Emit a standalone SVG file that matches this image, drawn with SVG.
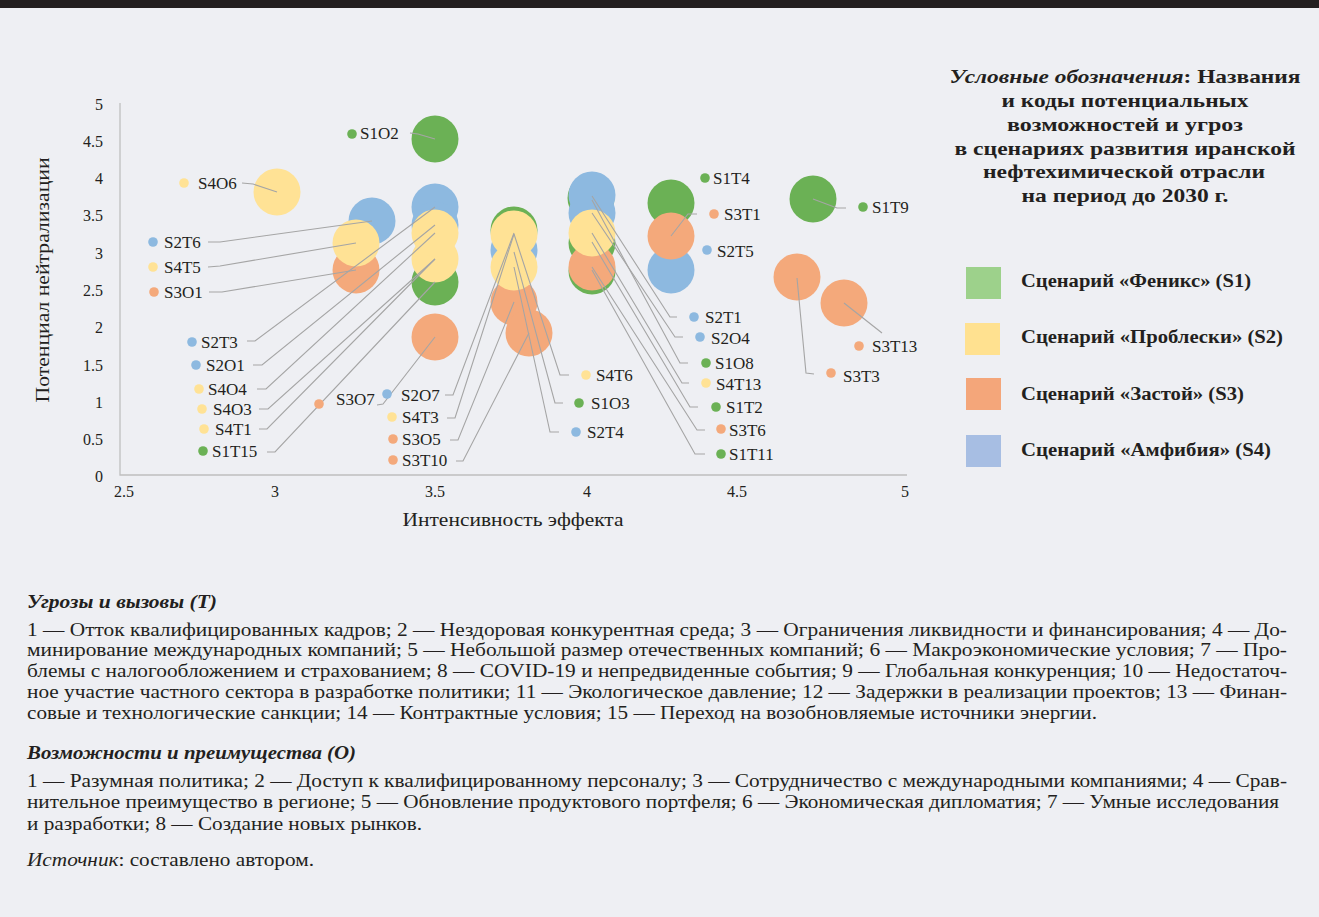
<svg xmlns="http://www.w3.org/2000/svg" width="1319" height="917" viewBox="0 0 1319 917">
<style>
text{font-family:"Liberation Serif","Times New Roman",serif;fill:#231f20}
.lb{font-size:17px}
.tk{font-size:16px}
.ax{font-size:18px}
.lt{font-size:19px;font-weight:bold}
.li{font-size:18px;font-weight:bold}
.bd{font-size:18px}
.hd{font-size:19px;font-weight:bold;font-style:italic}
.g{fill:#6bb155}.y{fill:#ffe295}.o{fill:#f4a97b}.b{fill:#8db9e0}
.ld polyline{fill:none;stroke:#a5a5a5;stroke-width:1.1}
.axis{stroke:#bfbfbf;stroke-width:1.3;fill:none}
</style>
<defs>
<circle id="B" r="23.5"/>
<circle id="d" r="4.8"/>
</defs>
<rect width="1319" height="917" fill="#eeeff3"/>
<rect width="1319" height="8" fill="#231f20"/>

<g id="axes">
<path class="axis" d="M120 103V475H907"/>
<g class="tk" text-anchor="end">
<text x="103" y="110">5</text><text x="103" y="147">4.5</text><text x="103" y="184">4</text><text x="103" y="221">3.5</text><text x="103" y="259">3</text><text x="103" y="296">2.5</text><text x="103" y="333">2</text><text x="103" y="371">1.5</text><text x="103" y="408">1</text><text x="103" y="445">0.5</text><text x="103" y="482">0</text>
</g>
<g class="tk" text-anchor="middle">
<text x="124" y="497">2.5</text><text x="275" y="497">3</text><text x="435" y="497">3.5</text><text x="587" y="497">4</text><text x="737" y="497">4.5</text><text x="905" y="497">5</text>
</g>
<text class="ax" x="513" y="526" text-anchor="middle" textLength="221" lengthAdjust="spacingAndGlyphs">Интенсивность эффекта</text>
<text class="ax" transform="translate(49 280) rotate(-90)" text-anchor="middle" textLength="245" lengthAdjust="spacingAndGlyphs">Потенциал нейтрализации</text>
</g>

<g id="bubbles">
<use href="#B" class="y" x="277" y="192"/>
<use href="#B" class="b" x="372" y="221"/>
<use href="#B" class="o" x="356" y="270"/>
<use href="#B" class="y" x="356" y="243"/>
<use href="#B" class="g" x="435" y="139"/>
<use href="#B" class="g" x="435" y="282"/>
<use href="#B" class="b" x="435" y="207"/>
<use href="#B" class="b" x="435" y="225"/>
<use href="#B" class="y" x="435" y="259"/>
<use href="#B" class="y" x="435" y="233"/>
<use href="#B" class="o" x="435" y="337"/>
<use href="#B" class="o" x="514" y="302"/>
<use href="#B" class="o" x="529" y="333"/>
<use href="#B" class="b" x="514" y="250"/>
<use href="#B" class="g" x="514" y="230"/>
<use href="#B" class="y" x="514" y="267"/>
<use href="#B" class="y" x="514" y="234"/>
<use href="#B" class="g" x="591" y="198"/>
<use href="#B" class="g" x="592" y="243"/>
<use href="#B" class="g" x="592" y="271"/>
<use href="#B" class="b" x="592" y="213"/>
<use href="#B" class="b" x="592" y="195"/>
<use href="#B" class="o" x="592" y="267"/>
<use href="#B" class="y" x="592" y="233"/>
<use href="#B" class="g" x="671" y="203"/>
<use href="#B" class="b" x="671" y="270"/>
<use href="#B" class="o" x="671" y="236"/>
<use href="#B" class="g" x="813" y="199"/>
<use href="#B" class="o" x="797" y="277"/>
<use href="#B" class="o" x="844" y="303"/>
</g>

<g id="connectors" class="ld">
<polyline points="435,139 418,134 410,133"/>
<polyline points="277,192 253,184 242,183"/>
<polyline points="372,221 220,242 208,242"/>
<polyline points="356,243 220,266 208,267"/>
<polyline points="356,270 222,292 209,292"/>
<polyline points="435,207 255,341 247,341"/>
<polyline points="435,225 262,365 253,365"/>
<polyline points="435,233 266,389 257,389"/>
<polyline points="435,259 268,409 259,409"/>
<polyline points="435,259 267,429 259,429"/>
<polyline points="435,282 275,452 267,452"/>
<polyline points="435,337 383,404 377,405"/>
<polyline points="514,233 453,395 445,395"/>
<polyline points="514,234 455,418 447,418"/>
<polyline points="514,302 458,440 450,440"/>
<polyline points="529,333 463,461 456,461"/>
<polyline points="514,234 560,375 569,375"/>
<polyline points="514,252 555,403 563,403"/>
<polyline points="514,267 550,432 559,432"/>
<polyline points="592,196 670,317 677,317"/>
<polyline points="592,213 675,337 683,337"/>
<polyline points="592,200 680,363 688,363"/>
<polyline points="592,233 682,383 689,383"/>
<polyline points="592,242 690,407 698,407"/>
<polyline points="592,267 697,430 705,430"/>
<polyline points="592,270 695,454 705,454"/>
<polyline points="671,236 688,214 697,214"/>
<polyline points="813,199 837,208 846,208"/>
<polyline points="797,278 806,373 814,374"/>
<polyline points="844,303 882,333"/>
</g>

<g id="labels" class="lb">
<g id="S1O2"><use href="#d" class="g" x="352" y="134"/><text x="360" y="139">S1O2</text></g>
<g id="S4O6"><use href="#d" class="y" x="184" y="183"/><text x="198" y="189">S4O6</text></g>
<g id="S2T6"><use href="#d" class="b" x="153" y="242"/><text x="164" y="248">S2T6</text></g>
<g id="S4T5"><use href="#d" class="y" x="153" y="267"/><text x="164" y="273">S4T5</text></g>
<g id="S3O1"><use href="#d" class="o" x="154" y="292"/><text x="164" y="298">S3O1</text></g>
<g id="S2T3"><use href="#d" class="b" x="192" y="342"/><text x="201" y="348">S2T3</text></g>
<g id="S2O1"><use href="#d" class="b" x="196" y="365"/><text x="206" y="371">S2O1</text></g>
<g id="S4O4"><use href="#d" class="y" x="199" y="389"/><text x="208" y="395">S4O4</text></g>
<g id="S4O3"><use href="#d" class="y" x="202" y="409"/><text x="213" y="415">S4O3</text></g>
<g id="S4T1"><use href="#d" class="y" x="204" y="429"/><text x="215" y="435">S4T1</text></g>
<g id="S1T15"><use href="#d" class="g" x="203" y="451"/><text x="212" y="457">S1T15</text></g>
<g id="S3O7"><use href="#d" class="o" x="319" y="404"/><text x="336" y="405">S3O7</text></g>
<g id="S2O7"><use href="#d" class="b" x="387" y="394"/><text x="401" y="401">S2O7</text></g>
<g id="S4T3"><use href="#d" class="y" x="392" y="417"/><text x="402" y="423">S4T3</text></g>
<g id="S3O5"><use href="#d" class="o" x="393" y="439"/><text x="402" y="445">S3O5</text></g>
<g id="S3T10"><use href="#d" class="o" x="393" y="460"/><text x="402" y="466">S3T10</text></g>
<g id="S4T6"><use href="#d" class="y" x="586" y="375"/><text x="596" y="381">S4T6</text></g>
<g id="S1O3"><use href="#d" class="g" x="579" y="403"/><text x="591" y="409">S1O3</text></g>
<g id="S2T4"><use href="#d" class="b" x="576" y="432"/><text x="587" y="438">S2T4</text></g>
<g id="S1T4"><use href="#d" class="g" x="705" y="178"/><text x="713" y="184">S1T4</text></g>
<g id="S3T1"><use href="#d" class="o" x="714" y="214"/><text x="724" y="220">S3T1</text></g>
<g id="S2T5"><use href="#d" class="b" x="707" y="250"/><text x="717" y="257">S2T5</text></g>
<g id="S2T1"><use href="#d" class="b" x="694" y="317"/><text x="705" y="323">S2T1</text></g>
<g id="S2O4"><use href="#d" class="b" x="700" y="337"/><text x="711" y="344">S2O4</text></g>
<g id="S1O8"><use href="#d" class="g" x="706" y="363"/><text x="715" y="369">S1O8</text></g>
<g id="S4T13"><use href="#d" class="y" x="706" y="383"/><text x="716" y="390">S4T13</text></g>
<g id="S1T2"><use href="#d" class="g" x="716" y="407"/><text x="726" y="413">S1T2</text></g>
<g id="S3T6"><use href="#d" class="o" x="721" y="429"/><text x="729" y="436">S3T6</text></g>
<g id="S1T11"><use href="#d" class="g" x="721" y="454"/><text x="729" y="460">S1T11</text></g>
<g id="S1T9"><use href="#d" class="g" x="863" y="207"/><text x="872" y="213">S1T9</text></g>
<g id="S3T3"><use href="#d" class="o" x="831" y="373"/><text x="843" y="382">S3T3</text></g>
<g id="S3T13"><use href="#d" class="o" x="859" y="346"/><text x="872" y="352">S3T13</text></g>
</g>

<g id="legend">
<g text-anchor="middle" class="lt">
<text x="1125" y="83" textLength="351" lengthAdjust="spacingAndGlyphs"><tspan font-style="italic">Условные обозначения</tspan>: Названия</text>
<text x="1125" y="107" textLength="247" lengthAdjust="spacingAndGlyphs">и коды потенциальных</text>
<text x="1125" y="131" textLength="236" lengthAdjust="spacingAndGlyphs">возможностей и угроз</text>
<text x="1125" y="155" textLength="341" lengthAdjust="spacingAndGlyphs">в сценариях развития иранской</text>
<text x="1124" y="178" textLength="282" lengthAdjust="spacingAndGlyphs">нефтехимической отрасли</text>
<text x="1125" y="202" textLength="207" lengthAdjust="spacingAndGlyphs">на период до 2030 г.</text>
</g>
<g id="leg-s1"><rect x="966" y="267" width="35" height="32" fill="#9dd18b"/><text class="li" x="1021" y="287" textLength="230" lengthAdjust="spacingAndGlyphs">Сценарий «Феникс» (S1)</text></g>
<g id="leg-s2"><rect x="965" y="323" width="35" height="32" fill="#ffe190"/><text class="li" x="1021" y="343" textLength="262" lengthAdjust="spacingAndGlyphs">Сценарий «Проблески» (S2)</text></g>
<g id="leg-s3"><rect x="966" y="378" width="35" height="32" fill="#f4a67a"/><text class="li" x="1021" y="400" textLength="223" lengthAdjust="spacingAndGlyphs">Сценарий «Застой» (S3)</text></g>
<g id="leg-s4"><rect x="966" y="435" width="35" height="32" fill="#a7bee3"/><text class="li" x="1021" y="456" textLength="250" lengthAdjust="spacingAndGlyphs">Сценарий «Амфибия» (S4)</text></g>
</g>

<g id="notes" class="bd">
<text class="hd" x="27" y="608" textLength="190" lengthAdjust="spacingAndGlyphs">Угрозы и вызовы (T)</text>
<text x="27" y="636" textLength="1260" lengthAdjust="spacingAndGlyphs">1 — Отток квалифицированных кадров; 2 — Нездоровая конкурентная среда; 3 — Ограничения ликвидности и финансирования; 4 — До-</text>
<text x="27" y="656" textLength="1260" lengthAdjust="spacingAndGlyphs">минирование международных компаний; 5 — Небольшой размер отечественных компаний; 6 — Макроэкономические условия; 7 — Про-</text>
<text x="27" y="677" textLength="1260" lengthAdjust="spacingAndGlyphs">блемы с налогообложением и страхованием; 8 — COVID-19 и непредвиденные события; 9 — Глобальная конкуренция; 10 — Недостаточ-</text>
<text x="27" y="698" textLength="1260" lengthAdjust="spacingAndGlyphs">ное участие частного сектора в разработке политики; 11 — Экологическое давление; 12 — Задержки в реализации проектов; 13 — Финан-</text>
<text x="27" y="719" textLength="1070" lengthAdjust="spacingAndGlyphs">совые и технологические санкции; 14 — Контрактные условия; 15 — Переход на возобновляемые источники энергии.</text>
<text class="hd" x="27" y="759" textLength="329" lengthAdjust="spacingAndGlyphs">Возможности и преимущества (О)</text>
<text x="27" y="787" textLength="1260" lengthAdjust="spacingAndGlyphs">1 — Разумная политика; 2 — Доступ к квалифицированному персоналу; 3 — Сотрудничество с международными компаниями; 4 — Срав-</text>
<text x="27" y="808" textLength="1252" lengthAdjust="spacingAndGlyphs">нительное преимущество в регионе; 5 — Обновление продуктового портфеля; 6 — Экономическая дипломатия; 7 — Умные исследования</text>
<text x="27" y="830" textLength="395" lengthAdjust="spacingAndGlyphs">и разработки; 8 — Создание новых рынков.</text>
<text x="27" y="866" textLength="287" lengthAdjust="spacingAndGlyphs"><tspan font-style="italic">Источник</tspan>: составлено автором.</text>
</g>
</svg>
